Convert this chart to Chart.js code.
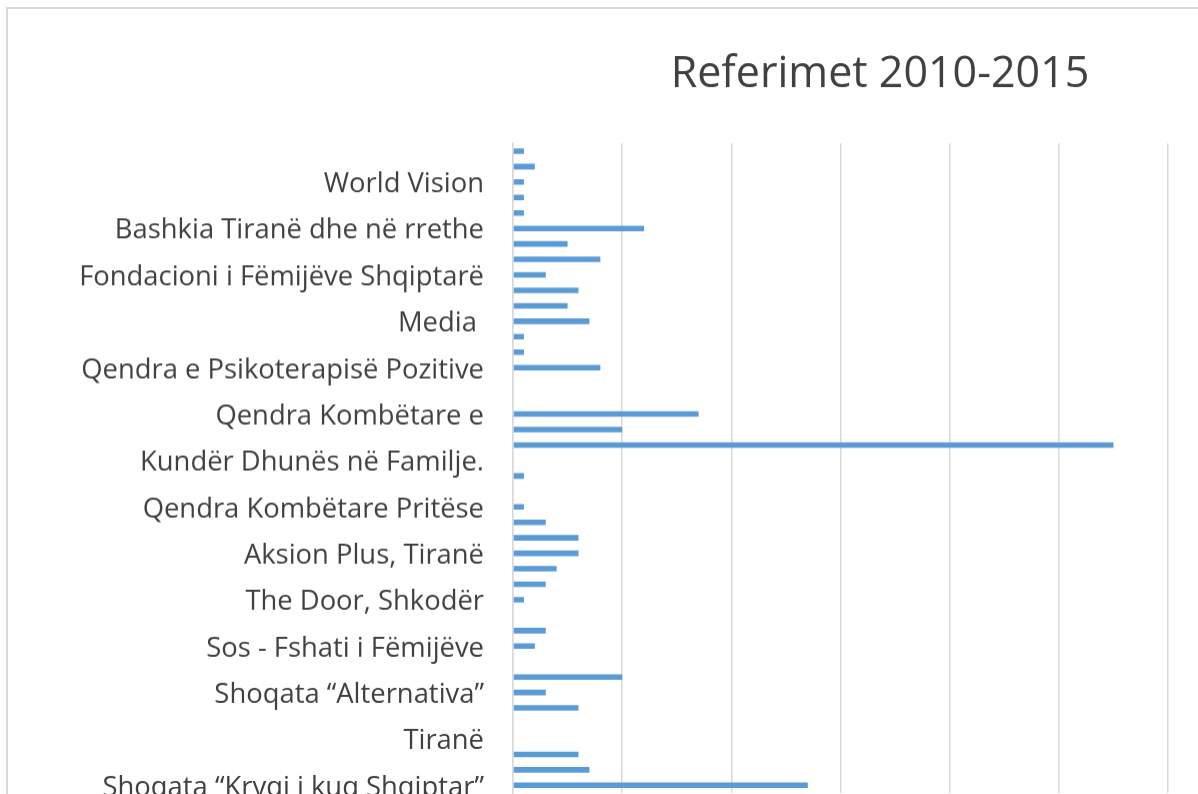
<!DOCTYPE html>
<html>
<head>
<meta charset="utf-8">
<script src="https://cdn.jsdelivr.net/npm/chart.js@4"></script>
<style>
  html, body { margin: 0; padding: 0; width: 1198px; height: 794px; overflow: hidden; background: #ffffff; }
  #frame { position: absolute; left: 6px; top: 7px; border-left: 2px solid #d9d9d9; border-top: 2px solid #d9d9d9; }
  #wrap { position: relative; width: 1744px; height: 828.5px; }
</style>
</head>
<body>
<div id="frame"><div id="wrap"><canvas id="c"></canvas></div></div>
<script>
const chartTitle = 'Referimet 2010-2015';
const categories = [
  '', '', 'World Vision', '', '', 'Bashkia Tiranë dhe në rrethe', '', '',
  'Fondacioni i Fëmijëve Shqiptarë', '', '', 'Media ', '', '',
  'Qendra e Psikoterapisë Pozitive', '', '', 'Qendra Kombëtare e', '', '',
  'Kundër Dhunës në Familje.', '', '', 'Qendra Kombëtare Pritëse', '', '',
  'Aksion Plus, Tiranë', '', '', 'The Door, Shkodër', '', '',
  'Sos - Fshati i Fëmijëve', '', '', 'Shoqata “Alternativa”', '', '',
  'Tiranë', '', '', 'Shoqata “Kryqi i kuq Shqiptar”'
];
const values = [
  1, 2, 1, 1, 1, 12, 5, 8, 3, 6, 5, 7, 1, 1, 8, 0, 0, 17, 10, 55, 0,
  1, 0, 1, 3, 6, 6, 4, 3, 1, 0, 3, 2, 0, 10, 3, 6, 0, 0, 6, 7, 27
];
const xMax = 110;
const xStep = 10;

new Chart(document.getElementById('c'), {
  type: 'bar',
  data: {
    labels: categories,
    datasets: [{
      data: values,
      backgroundColor: '#5b9bd5',
      borderWidth: 0,
      categoryPercentage: 1,
      barPercentage: 0.36
    }]
  },
  options: {
    indexAxis: 'y',
    responsive: true,
    maintainAspectRatio: false,
    animation: false,
    layout: { padding: 0 },
    plugins: {
      legend: { display: false },
      tooltip: { enabled: false },
      title: {
        display: true,
        text: chartTitle,
        color: '#404040',
        font: { family: 'Open Sans', size: 43, weight: 'normal', lineHeight: 1.2 },
        padding: { top: 40, bottom: 42.6 }
      }
    },
    scales: {
      x: {
        min: 0,
        max: xMax,
        ticks: { stepSize: xStep, color: '#595959', font: { family: 'Open Sans', size: 18 } },
        grid: { color: '#d9d9d9', lineWidth: 1.5, drawTicks: false },
        border: { display: false },
        afterFit: (s) => { s.height = 41; }
      },
      y: {
        offset: true,
        ticks: {
          autoSkip: false,
          padding: 29,
          labelOffset: 2.5,
          color: '#404040',
          font: { family: 'Open Sans', size: 27.4, weight: 'normal' }
        },
        grid: { display: false, drawTicks: false },
        border: { display: true, color: '#d9d9d9', width: 1.5 },
        afterFit: (s) => { s.width = 505; }
      },
      yRight: {
        type: 'linear',
        axis: 'y',
        position: 'right',
        display: true,
        ticks: { display: false },
        grid: { display: false, drawTicks: false },
        border: { display: false },
        afterFit: (s) => { s.width = 38; }
      }
    }
  }
});
</script>
</body>
</html>
